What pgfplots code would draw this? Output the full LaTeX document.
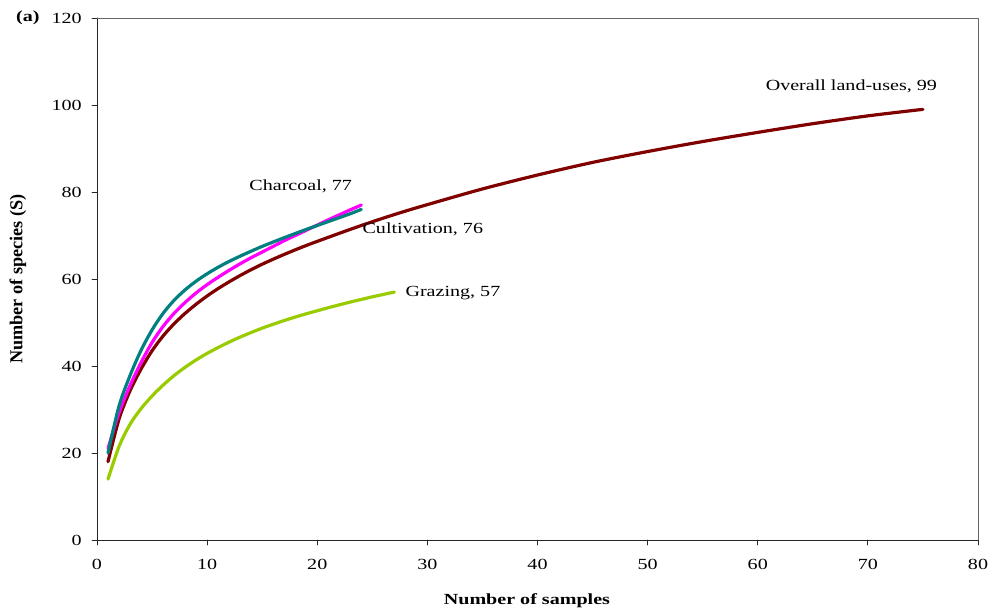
\documentclass[border=0pt]{standalone}
\usepackage{pgfplots}
\pgfplotsset{compat=1.18}
\usepackage{fontspec}
\setmainfont{Liberation Serif}[FakeStretch=1.3]
\newfontfamily\ylabfont{Liberation Serif}
\definecolor{overall}{HTML}{800000}
\definecolor{charcoal}{HTML}{FF00FF}
\definecolor{cultiv}{HTML}{008080}
\definecolor{grazing}{HTML}{99CC00}
\begin{document}
\fontsize{15.5}{18}\selectfont
\begin{tikzpicture}
\path[use as bounding box] (-97bp,-74bp) rectangle (897bp,540bp);
\begin{axis}[
  at={(0,0)}, anchor=south west,
  scale only axis, width=881bp, height=522bp,
  xmin=0, xmax=80, ymin=0, ymax=120,
  xtick={0,10,...,80}, ytick={0,20,...,120},
  axis lines=left, axis line style={-, line width=1pt, black!85},
  tick align=outside, major tick length=5bp,
  tick style={black!85, line width=0.8pt},
  /pgf/number format/assume math mode=true,
  ticklabel style={font=\fontsize{15.5}{18}\selectfont},
  xticklabel style={yshift=-9bp},
  yticklabel style={xshift=-5bp},
  xlabel={\textbf{Number of samples}},
  ylabel={\ylabfont\bfseries Number of species (S)},
  label style={font=\fontsize{15.5}{18}\selectfont},
  ylabel style={font=\fontsize{18.3}{20}\selectfont},
  xlabel style={at={(axis description cs:0.488,0)}, yshift=-61bp, anchor=center},
  ylabel style={at={(axis description cs:-0.0897,0.5)}, anchor=center},
  clip=false,
  line join=round, line cap=round,
]
\draw[gray!80!black, line width=0.9pt] (rel axis cs:0,1) -- (rel axis cs:1,1) -- (rel axis cs:1,0);
% Grazing
\addplot[grazing, line width=3.2bp, smooth] coordinates {
(1,14) (2,21.5) (3,26.6) (4,30.2) (5,33.1) (6,35.6) (7,37.8) (8,39.7) (9,41.4) (10,42.9)
(11,44.25) (12,45.5) (13,46.65) (14,47.7) (15,48.7) (16,49.6) (17,50.45) (18,51.25) (19,52)
(20,52.7) (21,53.4) (22,54.05) (23,54.7) (24,55.3) (25,55.9) (26,56.45) (27,57)};
% Overall
\addplot[overall, line width=3.2bp, smooth] coordinates {
(1,18) (2,27.8) (3,34.3) (4,39.3) (5,43.5) (6,46.9) (7,49.7) (8,52.1) (9,54.2) (10,56.1)
(11,57.8) (12,59.35) (13,60.8) (14,62.15) (15,63.4) (16,64.55) (17,65.65) (18,66.7) (19,67.7) (20,68.65)
(22,70.5) (24,72.3) (26,74) (28,75.6) (30,77.1) (35,80.7)
(40,83.9) (45,86.8) (50,89.3) (55,91.6) (60,93.7) (65,95.7) (70,97.5) (75,99)};
% Charcoal
\addplot[charcoal, line width=3.2bp, smooth] coordinates {
(1,21) (2,29.3) (3,35.5) (4,40.8) (5,45.4) (6,49.1) (7,52.1) (8,54.6) (9,56.8) (10,58.7)
(11,60.4) (12,62) (13,63.5) (14,64.9) (15,66.2) (16,67.5) (17,68.8) (18,70)
(19,71.2) (20,72.4) (21,73.6) (22,74.75) (23,75.9) (24,77)};
% Cultivation
\addplot[cultiv, line width=3.2bp, smooth] coordinates {
(1,20) (2,30.8) (3,37.8) (4,43.6) (5,48.3) (6,52.1) (7,55.1) (8,57.5) (9,59.5) (10,61.2)
(11,62.7) (12,64.05) (13,65.25) (14,66.4) (15,67.5) (16,68.5) (17,69.5) (18,70.45)
(19,71.4) (20,72.3) (21,73.2) (22,74.1) (23,75) (24,76)};
\node[anchor=center] at (axis cs:18.5,81.4) {Charcoal, 77};
\node[anchor=west, inner sep=0pt] at (axis cs:24.1,71.5) {Cultivation, 76};
\node[anchor=west, inner sep=0pt] at (axis cs:28,56.8) {Grazing, 57};
\node[anchor=center] at (axis cs:68.5,104.4) {Overall land-uses, 99};
\node[anchor=east, font=\bfseries\fontsize{15.5}{18}\selectfont] at (rel axis cs:0,1) [xshift=-52bp] {(a)};
\end{axis}
\end{tikzpicture}
\end{document}
